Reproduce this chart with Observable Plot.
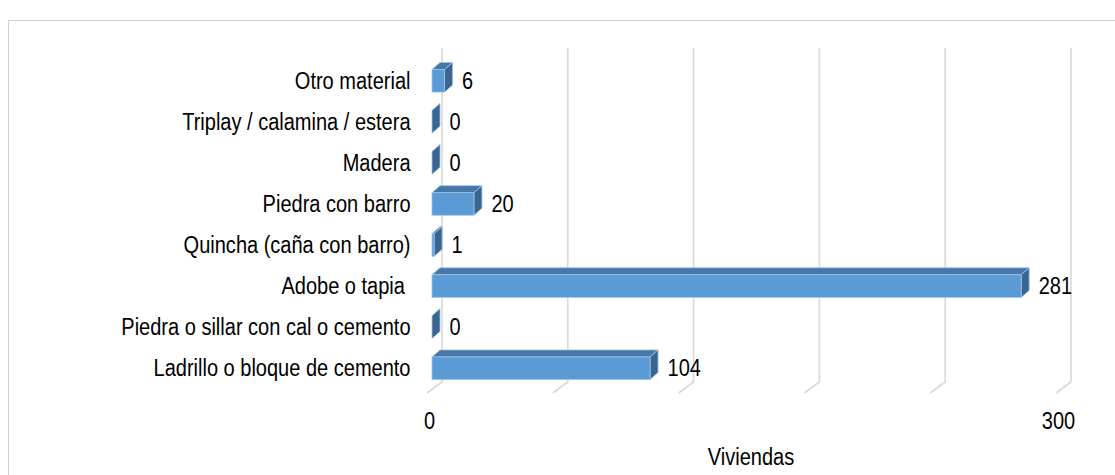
<!DOCTYPE html>
<html>
<head>
<meta charset="utf-8">
<script src="https://cdn.jsdelivr.net/npm/d3@7"></script>
<script src="https://cdn.jsdelivr.net/npm/@observablehq/plot@0.6"></script>
<style>
  html, body { margin: 0; padding: 0; background: #fff; overflow: hidden; }
  #wrap { position: relative; width: 1115px; height: 475px; }
  #frame { position: absolute; left: 8px; top: 20px; width: 1120px; height: 470px; border: 1px solid #d0d0d0; box-sizing: border-box; }
  #chart { position: absolute; left: 0; top: 0; }
  #chart svg { font-family: "Liberation Sans", Arial, sans-serif; }
</style>
</head>
<body>
<div id="wrap"><div id="frame"></div><div id="chart"></div></div>
<script>
const categories = [
  "Otro material",
  "Triplay / calamina / estera",
  "Madera",
  "Piedra con barro",
  "Quincha (caña con barro)",
  "Adobe o tapia\u00A0",
  "Piedra o sillar con cal o cemento",
  "Ladrillo o bloque de cemento"
];
const values = [6, 0, 0, 20, 1, 281, 0, 104];
const gridTicks = [0, 60, 120, 180, 240, 300];
const axisTicks = [0, 300];
const axisTitle = "Viviendas";

const data = categories.map((c, i) => ({cat: c, value: values[i]}));

const FRONT = "#5B9BD5", TOP = "#4677A8", SIDE = "#3A6590", EDGE = "#9DC3E6";
const DX = 8, DY = 7;
const FS = 23;

function gridMark(index, scales, vals, dims) {
  const g = d3.create("svg:g");
  for (const t of gridTicks) {
    const x = scales.x(t) + 10;
    g.append("path")
      .attr("d", `M${x},48 L${x},382 L${x - 15},393`)
      .attr("fill", "none").attr("stroke", "#d9d9d9").attr("stroke-width", 1.6);
  }
  return g.node();
}

function render3d(index, scales, vals, dims, context, next) {
  const g = next(index, scales, vals, dims, context);
  const rects = Array.from(g.querySelectorAll("rect"));
  const extra = d3.create("svg:g");
  for (const r of rects) {
    const x0 = +r.getAttribute("x"), w = +r.getAttribute("width");
    const y0 = +r.getAttribute("y"), h = +r.getAttribute("height");
    const x1 = x0 + w, y1 = y0 + h;
    extra.append("path")
      .attr("d", `M${x0},${y0} L${x1},${y0} L${x1 + DX},${y0 - DY} L${x0 + DX},${y0 - DY} Z`)
      .attr("fill", TOP);
    extra.append("path")
      .attr("d", `M${x1},${y0} L${x1 + DX},${y0 - DY} L${x1 + DX},${y1 - DY} L${x1},${y1} Z`)
      .attr("fill", SIDE);
    if (w < 0.5) r.setAttribute("visibility", "hidden");
  }
  g.insertBefore(extra.node(), g.firstChild);
  return g;
}

const chart = Plot.plot({
  width: 1115,
  height: 475,
  marginLeft: 432,
  marginRight: 54,
  marginTop: 51,
  marginBottom: 77,
  style: {fontSize: FS + "px", color: "#000", background: "transparent"},
  x: {domain: [0, 300], axis: null},
  y: {domain: categories, paddingInner: 0.45, paddingOuter: 0.45, round: false, axis: null},
  marks: [
    gridMark,
    Plot.barX(data, {x1: 0, x2: "value", y: "cat", fill: FRONT, stroke: EDGE, strokeWidth: 0.8, render: render3d}),
    Plot.axisY({tickSize: 0, tickPadding: 22, fontSize: FS, label: null}),
    Plot.axisX({ticks: axisTicks, tickSize: 0, tickPadding: 14, fontSize: FS, dx: -3, label: null}),
    Plot.text(data, {x: "value", y: "cat", text: d => String(d.value), dx: 17, textAnchor: "start", fontSize: FS}),
    Plot.text([axisTitle], {frameAnchor: "bottom", dy: 59, dx: 4, lineAnchor: "middle", fontSize: FS})
  ]
});
document.getElementById("chart").appendChild(chart);

// condense text horizontally (narrow face look)
for (const t of chart.querySelectorAll("text")) {
  const len = t.getComputedTextLength();
  if (len > 0) {
    t.setAttribute("textLength", (len * 0.87).toFixed(1));
    t.setAttribute("lengthAdjust", "spacingAndGlyphs");
  }
}
</script>
</body>
</html>
